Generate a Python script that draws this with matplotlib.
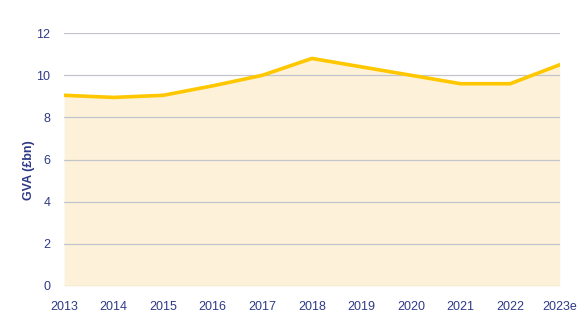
import matplotlib
matplotlib.use("Agg")
import matplotlib.pyplot as plt

years = ["2013", "2014", "2015", "2016", "2017", "2018", "2019", "2020", "2021", "2022", "2023e"]
gva = [9.05, 8.95, 9.05, 9.5, 10.0, 10.8, 10.4, 10.0, 9.6, 9.6, 10.5]
yticks = [0, 2, 4, 6, 8, 10, 12]

plt.rcParams['font.family'] = ['Liberation Sans', 'DejaVu Sans']
txt = '#2E3A87'

fig = plt.figure(figsize=(5.88, 3.25), dpi=100)
ax = fig.add_axes([0.109, 0.12, 0.843, 0.778])
x = list(range(len(years)))
ax.fill_between(x, gva, 0, color='#FDF2D9', lw=0, zorder=1)
ax.plot(x, gva, color='#FFC700', lw=2.6, solid_joinstyle='round', zorder=3)
ax.set_xlim(0, len(years) - 1)
ax.set_ylim(0, 12)
ax.set_yticks(yticks)
ax.set_xticks(x)
ax.set_xticklabels(years)
ax.grid(axis='y', color='#C4C4CC', lw=0.9, zorder=2)
ax.set_axisbelow(False)
for s in ax.spines.values():
    s.set_visible(False)
ax.tick_params(axis='both', length=0, colors=txt, labelsize=9)
ax.tick_params(axis='y', pad=10)
ax.tick_params(axis='x', pad=11)
ax.set_ylabel('GVA (£bn)', color=txt, fontsize=9, fontweight='bold')
ax.yaxis.set_label_coords(-0.058, 0.46)
fig.savefig('out.png', dpi=100)
